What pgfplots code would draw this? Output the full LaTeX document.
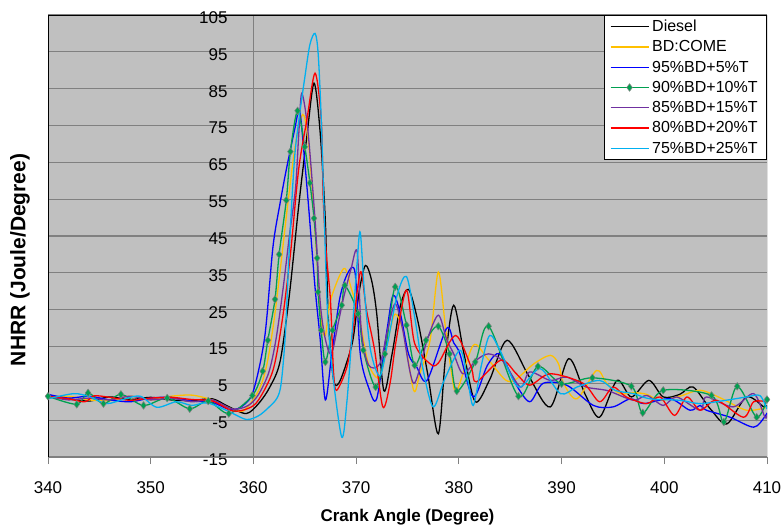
\documentclass[border=0pt]{standalone}
\usepackage{fontspec}
\setmainfont{Liberation Sans}
\usepackage{pgfplots}
\pgfplotsset{compat=1.18}
\definecolor{plotbg}{HTML}{C0C0C0}
\definecolor{gridc}{HTML}{808080}
\definecolor{cBD}{HTML}{FFC000}
\definecolor{cBlue}{HTML}{0000FF}
\definecolor{cGreen}{HTML}{00A050}
\definecolor{cPurple}{HTML}{7030A0}
\definecolor{cRed}{HTML}{FF0000}
\definecolor{cLBlue}{HTML}{00B0F0}
\begin{document}
\begin{tikzpicture}
\begin{axis}[
  set layers,
  scale only axis, width=719pt, height=442pt,
  xmin=340, xmax=410, ymin=-15, ymax=105,
  xtick={340,350,...,410}, ytick={-15,-5,...,105},
  /pgf/number format/assume math mode=true,
  axis background/.style={fill=plotbg},
  ymajorgrids, xmajorgrids=false,
  grid style={line width=1.1pt, color=gridc},
  axis line style={draw=none},
  tick align=outside, xtick pos=lower, ytick pos=left,
  major tick length=7pt,
  xtick style={gridc, line width=1pt},
  ytick style={draw=none},
  ticklabel style={font=\fontsize{17}{20}\selectfont},
  xticklabel style={yshift=-14pt},
  yticklabel style={anchor=east, xshift=190pt, yshift=-2.5pt},
  extra x ticks={360}, extra x tick labels={},
  extra x tick style={xmajorgrids=true, major tick length=0pt},
  xlabel={Crank Angle (Degree)},
  ylabel={NHRR (Joule/Degree)},
  xlabel style={font=\bfseries\fontsize{17}{20}\selectfont, at={(axis description cs:0.5,0)}, anchor=center, yshift=-60pt},
  ylabel style={font=\bfseries\fontsize{21}{24}\selectfont, at={(axis description cs:-0.039,0.446)}, anchor=center},
  legend style={at={(rel axis cs:1,1)}, anchor=north east, draw=black, fill=white, line width=0.8pt,
    font=\fontsize{16}{18}\selectfont, row sep=4.6pt, inner xsep=6pt, inner ysep=3pt,
    nodes={inner xsep=3pt, inner ysep=1.5pt}},
  legend cell align=left,
  legend image code/.code={\draw[mark repeat=2,mark phase=2,#1] plot coordinates {(0pt,0pt) (19pt,0pt) (38pt,0pt)};},
  every axis plot/.append style={line width=1.3pt, smooth},
]
% Diesel
\addplot[black] coordinates {(340,1.8)(342,0.8)(344,0.2)(346,1.3)(348,0.6)(350,1.2)(352,0.5)(354,0.3)(356,0.8)(357.5,-1.2)(359.3,-3.2)(360.5,-0.5)(361.6,4)(362.6,11)(363.5,29)(364.4,53)(365.2,72)(365.9,86.5)(366.5,73)(367.0,49)(367.3,22)(367.8,6)(368.3,5)(369,10)(369.7,17)(370.3,30)(370.9,37)(371.5,33)(372,24)(372.7,3)(373.5,13)(374.3,26)(375.1,30.5)(376,22)(377,7)(378,-8.7)(378.7,12)(379.5,26.2)(380.5,13)(381.6,0)(383,6)(384.7,16.7)(386.8,7)(388.9,-1.4)(390.7,11.7)(392.3,2)(393.7,-4.2)(395.4,5.8)(396.8,1.3)(398.5,5.8)(399.9,1.3)(401.5,2)(402.8,4)(404.5,-2)(406.1,-6)(408,1.3)(409.7,-1.4)(410,-1)};
\addlegendentry{Diesel}
% BD:COME
\addplot[cBD] coordinates {(340,1.2)(342,1.5)(344,0.5)(346,0.3)(348,1.5)(350,0.5)(352,1.5)(354,1.8)(356,0.5)(357.5,-1.5)(359,-2.5)(360.5,3)(361.3,10)(362,22)(362.7,38)(363.4,55)(364.1,70)(364.8,78)(365.3,72)(365.8,55)(366.2,38)(366.6,22)(367,18)(367.5,27.5)(368.8,36.2)(369.5,31)(370.3,23)(371.2,10.3)(372.3,6.7)(373.2,18)(373.8,23.8)(374.6,19)(375.6,3.1)(376.2,7.6)(377.2,16.7)(378,35.2)(378.7,20)(379.3,7.6)(379.8,3)(381.4,15.3)(382.7,12)(384.5,6)(385.5,6)(387.3,10.3)(388.9,12.6)(389.7,10.3)(390.2,5)(391.5,0.8)(393.4,8.5)(394.4,5)(395.7,2.2)(397,2.5)(398.3,2)(399.6,0.4)(401.5,1.5)(403.5,3.1)(405.5,1)(408,-2.3)(410,-1.5)};
\addlegendentry{BD:COME}
% 95%BD+5%T
\addplot[cBlue] coordinates {(340,2)(342,1)(344,1.5)(346,0.5)(348,0)(350,1)(352,1.2)(354,0.2)(356,-0.2)(357.8,-2.2)(359,-1)(360,3)(361.1,17.6)(361.9,42)(362.6,54)(363.2,63)(364,73.7)(364.5,79)(365,65)(365.4,52)(366,31)(366.5,17)(367,0.5)(367.6,12.2)(368.4,28)(369.2,35)(369.9,35)(370.4,13)(371.2,4)(372,0.8)(373,19.4)(373.6,28.9)(374.3,24)(375.1,13)(375.9,9.4)(376.9,5.8)(378.8,19.9)(379.5,16)(380.1,13)(381.4,1.3)(382.8,10)(384,13)(385.5,5)(386.9,0)(388.2,5)(390.5,4.5)(393.1,-1)(395,-1.4)(396.7,0.8)(398,-0.5)(400.6,0.8)(402.5,-2.3)(403.5,-1)(404.1,-2.3)(406.4,-4.2)(408.7,-6.9)(409.8,-4)(410,-3)};
\addlegendentry{95\%BD+5\%T}
% 90%BD+10%T
\addplot[cGreen, mark=diamond*, mark size=3.8pt, mark options={solid, fill=cGreen, draw=gray, line width=0.5pt}] coordinates {(340,1.5)(342.8,-0.7)(343.9,2.4)(345.4,-0.5)(347.1,2)(349.3,-1)(351.6,1)(353.8,-1.9)(355.6,0.2)(357.6,-3.2)(359.9,1.7)(360.9,8.3)(361.4,16.7)(362.1,27.8)(362.5,40)(363.2,54.7)(363.6,67.9)(364.3,79)(365,69.2)(365.5,59.4)(365.9,49.8)(366.2,39)(366.3,29.8)(366.6,19.4)(367,10.8)(367.7,19.4)(368.6,26.2)(368.9,31.6)(370.2,23.9)(370.7,14)(371.9,4)(372.8,13)(373.8,31.2)(374.9,20.8)(375.7,9.9)(376.8,16.7)(378,20.5)(379.1,13)(379.8,2.9)(381.6,10.8)(382.9,20.5)(385.8,1.5)(387.7,9.6)(390,4.9)(393,6.5)(396.8,4.2)(397.9,-3)(399.9,3.1)(404.6,1.7)(405.8,-5.5)(407.1,4.2)(409,-4.2)(410,0.6)};
\addlegendentry{90\%BD+10\%T}
% 85%BD+15%T
\addplot[cPurple] coordinates {(340,1.5)(342,0.5)(344,1)(346,0.5)(348,1.5)(350,0.5)(352,1)(354,0)(356,0.5)(358,-2)(359.5,-1)(360.5,2)(361.5,8)(362.2,17)(362.9,31)(363.5,45)(364.1,58)(364.4,72)(364.7,83.7)(365.3,73.7)(366,49.3)(366.5,27)(367,17)(367.6,13)(368.3,22)(368.8,28.5)(369.5,36)(370.1,40.7)(370.5,19.4)(371.2,10)(372.3,10.3)(373.1,20)(373.8,26.6)(374.5,20)(375.6,5)(376.9,16.7)(378,23.5)(378.8,17)(379.5,13)(380.4,7.6)(381.7,11.3)(382.9,13)(384.3,11)(386,4)(386.9,8.1)(388.9,5.8)(390.5,6.7)(392.4,4)(394.5,3)(397,0.4)(398.3,1.7)(399.9,-1)(401.2,1.3)(403.5,-2.3)(404.1,1.3)(406.7,-1.4)(408.7,2.2)(409.8,-4.2)(410,-3.5)};
\addlegendentry{85\%BD+15\%T}
% 80%BD+20%T
\addplot[cRed] coordinates {(340,1.5)(342,0.8)(343.6,0)(344.5,1.6)(346,1.2)(348,0.4)(350,1)(352,1.2)(354,0.6)(356,0.2)(358,-2.5)(359.5,-1.8)(360.5,0.5)(361.9,8.5)(362.8,22)(363.6,40)(364.4,63)(365.2,76.5)(366,89.2)(366.6,76.5)(366.8,55)(367.1,40)(367.5,27.5)(367.8,8)(368.1,3.1)(369.1,9.4)(369.7,19.4)(370.1,30)(370.5,35.2)(371,25)(371.8,14)(372.6,-1.4)(373.3,5)(373.9,16.7)(374.9,30.3)(375.7,15.8)(377.2,10.3)(378,10.5)(379.7,18)(381.2,9.4)(381.7,5.4)(384.1,11.3)(385.6,7.6)(386.9,4.5)(388.9,7.6)(392.1,5)(393.7,0)(395,4)(396.3,1.3)(398.3,-0.5)(399.6,1.3)(401,-3.7)(402.2,1.3)(403.5,-2.3)(405.1,0.4)(407.7,-4.2)(408.7,0)(410,0)};
\addlegendentry{80\%BD+20\%T}
% 75%BD+25%T
\addplot[cLBlue] coordinates {(340,0.8)(342.5,2.2)(344,1.4)(345.7,-0.5)(347.5,0.8)(349,1.5)(350.6,-1.5)(352.5,0)(354,-1)(355.5,-0.3)(357.5,-2.5)(359.3,-4.8)(360.5,-3.8)(361.5,-1.5)(362.3,1)(362.7,5)(363.1,18)(363.5,42)(364,66)(364.5,78)(365,88)(365.5,97)(366,100)(366.3,94.6)(366.6,77)(366.9,50)(367.2,25)(367.7,8)(368.6,-9.6)(369.1,0)(369.6,18.5)(370.1,38)(370.4,46)(370.8,30)(371.4,14)(372.3,7)(373,15)(374,29)(374.9,34)(375.7,23)(376.5,9)(377.5,-1.4)(378.6,6)(380.1,14)(380.8,7)(381.4,-1)(382.2,10)(383,18)(384,14)(385.8,4)(387.9,9)(389.9,2.2)(391.5,4)(393.7,5.8)(395.2,3.1)(397,2.2)(398.6,0.8)(401.5,0.4)(403.5,-0.5)(406,0.4)(408,1.3)(409.3,1.7)(410,-2)};
\addlegendentry{75\%BD+25\%T}
\draw[on layer=axis background, gridc, line width=1pt] (rel axis cs:0,0) -- (rel axis cs:1,0);
\draw[on layer=axis background, black, line width=0.9pt] (rel axis cs:0,0) -- (rel axis cs:0,1) -- (rel axis cs:1,1) -- (rel axis cs:1,0);
\end{axis}
\pgfresetboundingbox
\path (-48pt,-74pt) rectangle (736pt,457pt);
\end{tikzpicture}
\end{document}
